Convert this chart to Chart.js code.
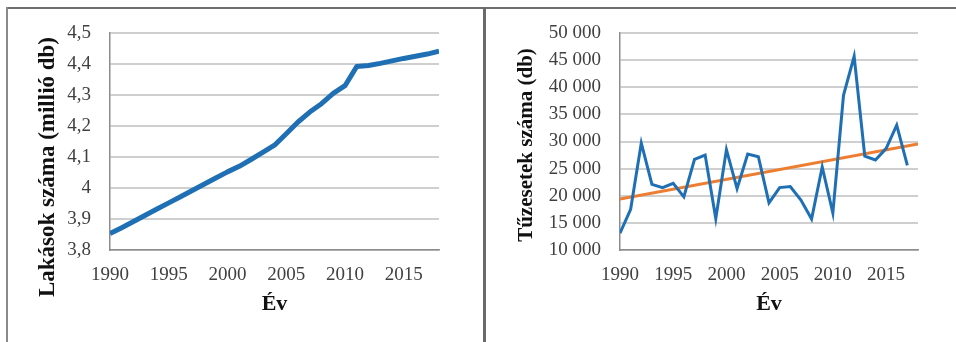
<!DOCTYPE html>
<html>
<head>
<meta charset="utf-8">
<script src="https://cdn.jsdelivr.net/npm/chart.js@4/dist/chart.umd.min.js"></script>
<style>
  html, body { margin: 0; padding: 0; background: #fff; }
  body { width: 956px; height: 342px; position: relative; overflow: hidden; }
  .panel { position: absolute; top: 0; height: 342px; }
  #p1 { left: 0; width: 482px; }
  #p2 { left: 487px; width: 469px; }
  canvas { position: absolute; top: 0; left: 0; }
  .frame-top { position: absolute; left: 6px; top: 7px; width: 950px; height: 2px; background: #6e6e6e; }
  .frame-left { position: absolute; left: 6px; top: 7px; width: 2px; height: 335px; background: #8a8a8a; }
  .frame-mid { position: absolute; left: 483px; top: 7px; width: 3px; height: 335px; background: #6a6a6a; }
</style>
</head>
<body>
<div class="frame-top"></div>
<div class="frame-left"></div>
<div class="frame-mid"></div>
<div class="panel" id="p1"><canvas id="c1" width="482" height="342"></canvas></div>
<div class="panel" id="p2"><canvas id="c2" width="469" height="342"></canvas></div>
<script>
// Lakásállomány (millió db), évenként
const years1 = [1990, 1991, 1992, 1993, 1994, 1995, 1996, 1997, 1998, 1999,
                2000, 2001, 2002, 2003, 2004, 2005, 2006, 2007, 2008, 2009,
                2010, 2011, 2012, 2013, 2014, 2015, 2016, 2017, 2018];
const dwellings = [3.853, 3.872, 3.892, 3.912, 3.932, 3.952, 3.972, 3.992, 4.012, 4.032,
                   4.052, 4.070, 4.092, 4.115, 4.138, 4.175, 4.213, 4.245, 4.272, 4.305,
                   4.330, 4.392, 4.395, 4.402, 4.410, 4.418, 4.425, 4.432, 4.441];

// Tűzesetek száma (db), évenként
const years2 = [1990, 1991, 1992, 1993, 1994, 1995, 1996, 1997, 1998, 1999,
                2000, 2001, 2002, 2003, 2004, 2005, 2006, 2007, 2008, 2009,
                2010, 2011, 2012, 2013, 2014, 2015, 2016, 2017];
const fires = [13100, 17500, 29700, 22100, 21500, 22300, 19800, 26700, 27500, 15800,
               28500, 21300, 27700, 27200, 18700, 21500, 21700, 19200, 15700, 25300,
               16800, 38500, 45700, 27300, 26600, 28700, 33000, 25600];

// Lineáris trendvonal végpontjai
const trendYears = [1990, 2018];
const trendValues = [19400, 29550];

// Tengelyfeliratok
const xTicks = [1990, 1995, 2000, 2005, 2010, 2015];
const yTicks1 = [3.8, 3.9, 4.0, 4.1, 4.2, 4.3, 4.4, 4.5];
const yTicks2 = [10000, 15000, 20000, 25000, 30000, 35000, 40000, 45000, 50000];

const SERIF = "'Liberation Serif', 'Times New Roman', serif";
const TICK_COLOR = '#404040';
const GRID = '#cfcfcf';
const AXIS = '#8c8c8c';
const BLUE = '#1f6fb5';
const ORANGE = '#ed7d31';

const pts = (xs, ys) => xs.map((x, i) => ({ x: x, y: ys[i] }));
const fixTicks = list => scale => { scale.ticks = list.map(v => ({ value: v })); };

// Függőleges tengelycím, a megadott középpontra forgatva
const sideTitle = {
  id: 'sideTitle',
  afterDraw(chart, args, opts) {
    const ctx = chart.ctx;
    ctx.save();
    ctx.translate(opts.x, opts.y);
    ctx.rotate(-Math.PI / 2);
    ctx.font = 'bold ' + opts.size + 'px ' + SERIF;
    ctx.fillStyle = '#111';
    ctx.textAlign = 'center';
    ctx.textBaseline = 'middle';
    ctx.fillText(opts.text, 0, 0);
    ctx.restore();
  }
};

function xScale(maxYear) {
  return {
    type: 'linear', min: 1990, max: maxYear,
    afterBuildTicks: fixTicks(xTicks),
    afterFit: s => { s.height = 68; },
    grid: { display: false, drawTicks: false },
    border: { display: true, color: AXIS, width: 1.5 },
    ticks: { padding: 14, color: TICK_COLOR, font: { family: SERIF, size: 19 },
             maxRotation: 0, autoSkip: false, callback: v => String(v) },
    title: { display: true, text: 'Év', color: '#111', padding: { top: 0, bottom: 0 },
             font: { family: SERIF, size: 22, weight: 'bold' } }
  };
}

function yScale(min, max, list, width, fmt) {
  return {
    type: 'linear', min: min, max: max,
    afterBuildTicks: fixTicks(list),
    afterFit: s => { s.width = width; },
    grid: { display: true, color: GRID, lineWidth: 2, drawTicks: false },
    border: { display: true, color: AXIS, width: 1.5 },
    ticks: { padding: 19, color: TICK_COLOR, font: { family: SERIF, size: 19 }, callback: fmt }
  };
}

const baseOptions = () => ({
  responsive: false,
  animation: false,
  events: [],
  plugins: { legend: { display: false }, tooltip: { enabled: false } }
});

const opts1 = baseOptions();
opts1.layout = { padding: { left: 0, right: 43, top: 33, bottom: 24 } };
opts1.plugins.sideTitle = { text: 'Lakások száma (millió db)', x: 48, y: 167, size: 23 };
opts1.scales = {
  x: xScale(2018),
  y: yScale(3.8, 4.5, yTicks1, 110, v => (Math.round(v * 10) / 10).toString().replace('.', ','))
};

new Chart(document.getElementById('c1'), {
  type: 'line',
  data: {
    datasets: [{
      data: pts(years1, dwellings),
      borderColor: BLUE, borderWidth: 5, pointRadius: 0, tension: 0,
      borderJoinStyle: 'round', borderCapStyle: 'butt'
    }]
  },
  options: opts1,
  plugins: [sideTitle]
});

const opts2 = baseOptions();
opts2.layout = { padding: { left: 0, right: 38, top: 33, bottom: 24 } };
opts2.plugins.sideTitle = { text: 'Tűzesetek száma (db)', x: 40, y: 145, size: 21 };
opts2.scales = {
  x: xScale(2018),
  y: yScale(10000, 50000, yTicks2, 133, v => String(v).replace(/\B(?=(\d{3})+(?!\d))/g, ' '))
};

new Chart(document.getElementById('c2'), {
  type: 'line',
  data: {
    datasets: [
      {
        data: pts(years2, fires),
        borderColor: BLUE, borderWidth: 3, pointRadius: 0, tension: 0,
        borderJoinStyle: 'miter'
      },
      {
        data: pts(trendYears, trendValues),
        borderColor: ORANGE, borderWidth: 3, pointRadius: 0, tension: 0
      }
    ]
  },
  options: opts2,
  plugins: [sideTitle]
});
</script>
</body>
</html>
